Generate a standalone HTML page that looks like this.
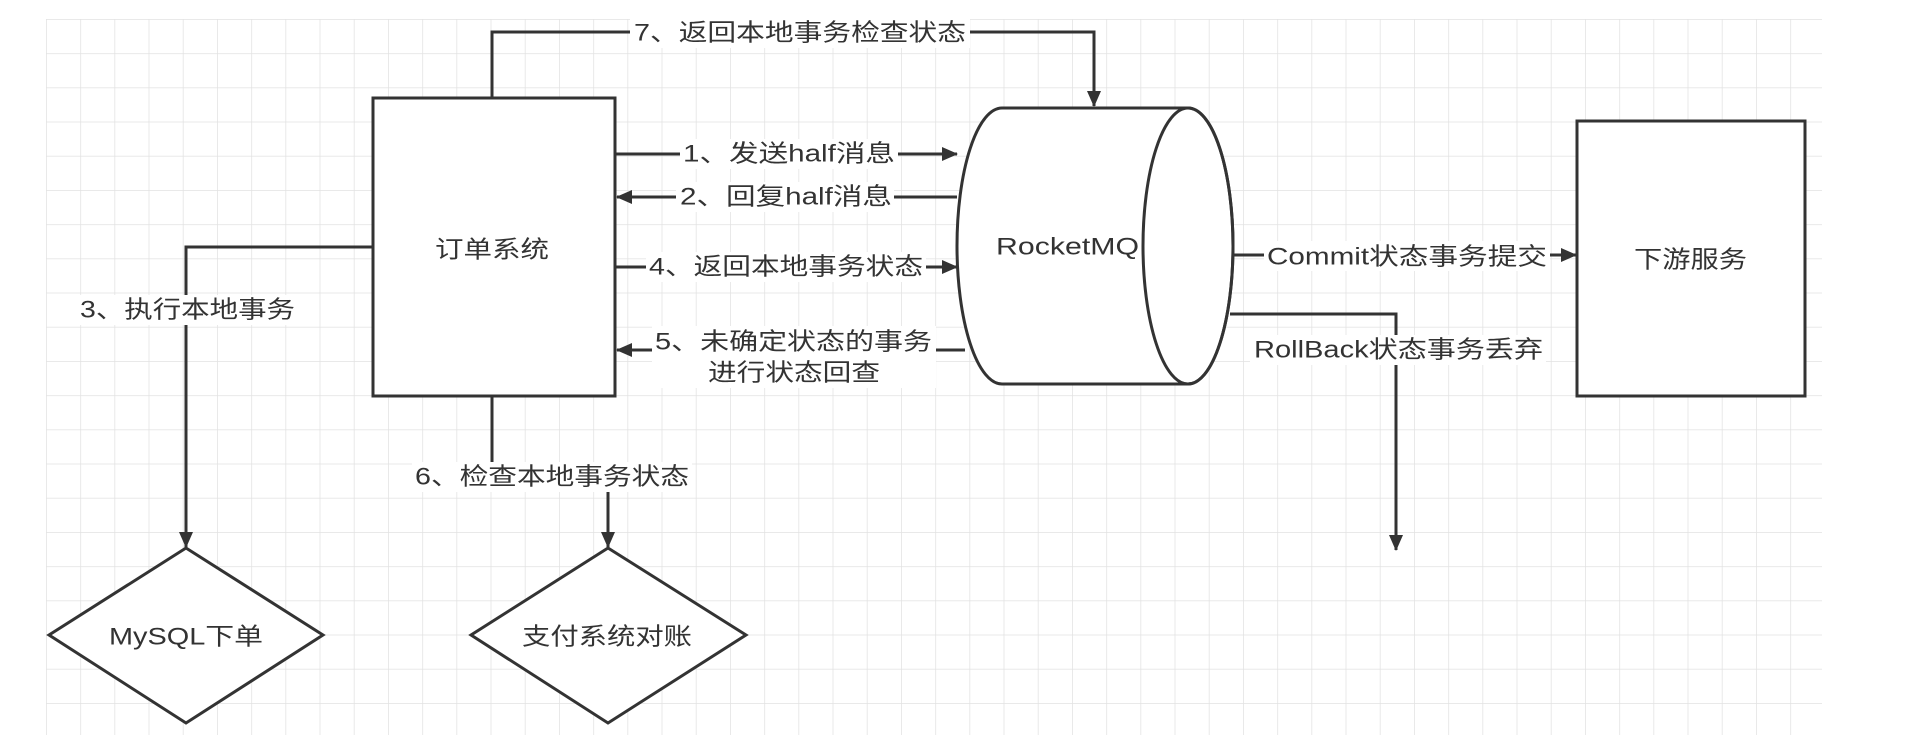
<!DOCTYPE html>
<html><head><meta charset="utf-8"><style>
html,body{margin:0;padding:0;background:#fff;}
svg{display:block;}
text{font-family:"Liberation Sans","Noto Sans CJK SC",sans-serif;fill:#333;font-size:24px;}
</style></head><body>
<svg width="1930" height="756" xmlns="http://www.w3.org/2000/svg">
<defs>
<pattern id="g" x="46" y="19" width="34.2" height="34.2" patternUnits="userSpaceOnUse">
<path d="M0 0H34.2M0 0V34.2" stroke="#e2e2e2" stroke-width="1.5" fill="none"/>
</pattern>
<marker id="a" markerWidth="16" markerHeight="14" refX="15" refY="7" orient="auto" markerUnits="userSpaceOnUse" viewBox="0 0 16 14">
<path d="M0 0L16 7L0 14Z" fill="#333"/>
</marker>
</defs>
<rect x="46" y="19" width="1776" height="716" fill="url(#g)"/>
<g stroke="#333" stroke-width="3" fill="none">
<path d="M492 98V32H1094V106" marker-end="url(#a)"/>
<rect x="373" y="98" width="242" height="298" fill="#fff"/>
<path d="M1002 108H1188A45 138 0 0 1 1188 384H1002A45 138 0 0 1 1002 108Z" fill="#fff"/>
<ellipse cx="1188" cy="246" rx="45" ry="138"/>
<path d="M615 154H957" marker-end="url(#a)"/>
<path d="M957 197H617" marker-end="url(#a)"/>
<path d="M615 267H957" marker-end="url(#a)"/>
<path d="M965 350H617" marker-end="url(#a)"/>
<path d="M373 247H186V547" marker-end="url(#a)"/>
<path d="M492 396V477H608V547" marker-end="url(#a)"/>
<path d="M1233 255H1576" marker-end="url(#a)"/>
<path d="M1230 314H1396V550" marker-end="url(#a)"/>
<rect x="1577" y="121" width="228" height="275" fill="#fff"/>
<path d="M186 548L323 635L186 723L49 635Z" fill="#fff"/>
<path d="M608 548L746 635L608 723L471 635Z" fill="#fff"/>
</g>
<g fill="#fff">
<rect x="630" y="18" width="340" height="30"/>
<rect x="680" y="139" width="218" height="30"/>
<rect x="676" y="182" width="218" height="30"/>
<rect x="646" y="252" width="280" height="30"/>
<rect x="652" y="326" width="284" height="62"/>
<rect x="78" y="295" width="220" height="30"/>
<rect x="412" y="462" width="280" height="30"/>
<rect x="1264" y="241" width="286" height="30"/>
<rect x="1250" y="335" width="296" height="30"/>
</g>
<g text-anchor="start" dominant-baseline="central">
<text x="634" y="33" textLength="332" lengthAdjust="spacingAndGlyphs">7、返回本地事务检查状态</text>
<text x="683" y="154" textLength="212" lengthAdjust="spacingAndGlyphs">1、发送half消息</text>
<text x="680" y="197" textLength="212" lengthAdjust="spacingAndGlyphs">2、回复half消息</text>
<text x="649" y="267" textLength="274" lengthAdjust="spacingAndGlyphs">4、返回本地事务状态</text>
<text x="655" y="342" textLength="277" lengthAdjust="spacingAndGlyphs">5、未确定状态的事务</text>
<text x="708" y="373" textLength="172" lengthAdjust="spacingAndGlyphs">进行状态回查</text>
<text x="80" y="310" textLength="215" lengthAdjust="spacingAndGlyphs">3、执行本地事务</text>
<text x="415" y="477" textLength="274" lengthAdjust="spacingAndGlyphs">6、检查本地事务状态</text>
<text x="1267" y="257" textLength="280" lengthAdjust="spacingAndGlyphs">Commit状态事务提交</text>
<text x="1254" y="350" textLength="289" lengthAdjust="spacingAndGlyphs">RollBack状态事务丢弃</text>
<text x="435" y="250" textLength="114" lengthAdjust="spacingAndGlyphs">订单系统</text>
<text x="996" y="247" textLength="143" lengthAdjust="spacingAndGlyphs">RocketMQ</text>
<text x="1634" y="260" textLength="113" lengthAdjust="spacingAndGlyphs">下游服务</text>
<text x="109" y="637" textLength="154" lengthAdjust="spacingAndGlyphs">MySQL下单</text>
<text x="522" y="637" textLength="170" lengthAdjust="spacingAndGlyphs">支付系统对账</text>
</g>
</svg>
</body></html>
